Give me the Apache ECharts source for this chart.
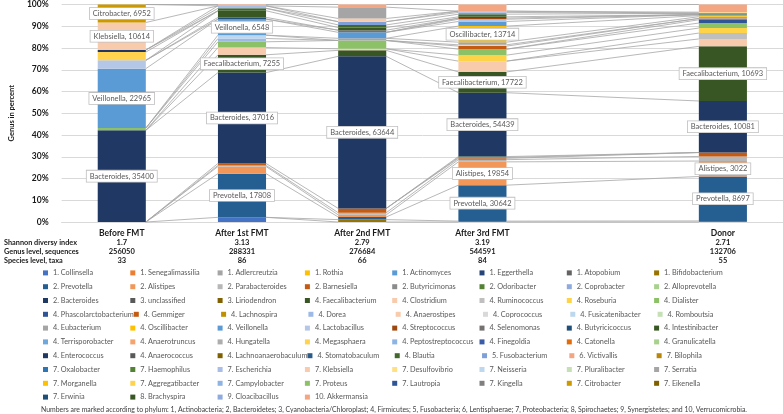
<!DOCTYPE html>
<html><head><meta charset="utf-8">
<script src="https://cdn.jsdelivr.net/npm/echarts@6/dist/echarts.min.js"></script>
<style>html,body{margin:0;padding:0;background:#fff}#c{width:783px;height:414px}</style>
</head><body><div id="c"></div><script>
const categories = ['Before FMT','After 1st FMT','After 2nd FMT','After 3rd FMT','','Donor'];
const shannonIndex = ['1.7','3.13','2.79','3.19','','2.71'];
const genusSequences = ['256050','288331','276684','544591','','132706'];
const speciesTaxa = ['33','86','66','84','','55'];
const rowHeaders = ['Shannon diversy index','Genus level, sequences','Species level, taxa'];
const footnote = 'Numbers are marked according to phylum: 1, Actinobacteria; 2, Bacteroidetes; 3, Cyanobacteria/Chloroplast; 4, Firmicutes; 5, Fusobacteria; 6, Lentisphaerae; 7, Proteobacteria; 8, Spirochaetes; 9, Synergistetes; and 10, Verrucomicrobia.';

const genera = ['1. Collinsella','1. Senegalimassilia','1. Adlercreutzia','1. Rothia','1. Actinomyces','1. Eggerthella','1. Atopobium','1. Bifidobacterium',
'2. Prevotella','2. Alistipes','2. Parabacteroides','2. Barnesiella','2. Butyricimonas','2. Odoribacter','2. Coprobacter','2. Alloprevotella',
'2. Bacteroides','3. unclassified','3. Liriodendron','4. Faecalibacterium','4. Clostridium','4. Ruminococcus','4. Roseburia','4. Dialister',
'4. Phascolarctobacterium','4. Gemmiger','4. Lachnospira','4. Dorea','4. Anaerostipes','4. Coprococcus','4. Fusicatenibacter','4. Romboutsia',
'4. Eubacterium','4. Oscillibacter','4. Veillonella','4. Lactobacillus','4. Streptococcus','4. Selenomonas','4. Butyricicoccus','4. Intestinibacter',
'4. Terrisporobacter','4. Anaerotruncus','4. Hungatella','4. Megasphaera','4. Peptostreptococcus','4. Finegoldia','4. Catonella','4. Granulicatella',
'4. Enterococcus','4. Anaerococcus','4. Lachnoanaerobaculum','4. Stomatobaculum','4. Blautia','5. Fusobacterium','6. Victivallis','7. Bilophila',
'7. Oxalobacter','7. Haemophilus','7. Escherichia','7. Klebsiella','7. Desulfovibrio','7. Neisseria','7. Pluralibacter','7. Serratia',
'7. Morganella','7. Aggregatibacter','7. Campylobacter','7. Proteus','7. Lautropia','7. Kingella','7. Citrobacter','7. Eikenella',
'7. Erwinia','8. Brachyspira','9. Cloacibacillus','10. Akkermansia'];

const genusColors = ['#4472C4','#ED7D31','#A5A5A5','#FFC000','#5B9BD5','#264478','#636363','#997300',
'#255E91','#F1975A','#B7B7B7','#C55A11','#8C8C8C','#548235','#8FAADC','#A9D18E',
'#203864','#595959','#806000','#375623','#F8CBAD','#BFBFBF','#FFD347','#8CC168',
'#2F5597','#C55A11','#BF9000','#9DB9E6','#F8CBAD','#D9D9D9','#BDD7EE','#C5E0B4',
'#A5A5A5','#FFC000','#5B9BD5','#B4C7E7','#9E480E','#767171','#1F4E79','#385723',
'#6FA8DC','#F4A46F','#ADADAD','#FFD34D','#8DB4E2','#3A5BA8','#E36C0A','#A9D18E',
'#203864','#595959','#7F6000','#2E5C8A','#43682B','#7F9FD8','#F4A582','#B8860B',
'#2E75B6','#548235','#A9BDE6','#F8CBAD','#FFE082','#BDD7EE','#C5E0B4','#A5A5A5',
'#FFC000','#FFD34D','#8DB4E2','#8CC168','#2F5597','#7F7F7F','#CC9A00','#7F6000',
'#1F4E79','#385723','#8FAADC','#F4A582'];

// estimated read counts per genus
const beforeFMT = {Bacteroides:35400, Dialister:850, Veillonella:22965, Lactobacillus:3200, Megasphaera:3200, Enterococcus:800, Klebsiella:10614, Citrobacter:6952};
const after1st = {Collinsella:1900, Prevotella:17808, Alistipes:2900, Parabacteroides:450, Barnesiella:800, Bacteroides:37016, Faecalibacterium:7255, Clostridium:2950, Dialister:2350, Dorea:1350, Fusicatenibacter:1350, Veillonella:6548, Butyricicoccus:700, Intestinibacter:2700, Blautia:1000, Escherichia:1000, Akkermansia:550};
const after2nd = {Bifidobacterium:1000, Prevotella:1100, Alistipes:900, Parabacteroides:900, Barnesiella:1800, Bacteroides:63644, Faecalibacterium:2500, Clostridium:650, Dialister:3500, Eubacterium:900, Veillonella:2500, Selenomonas:900, Intestinibacter:1100, Blautia:1100, Fusobacterium:1350, Klebsiella:1350, Serratia:4750, Akkermansia:1100};
const after3rd = {Bifidobacterium:750, Prevotella:30642, Alistipes:19854, Parabacteroides:1900, Barnesiella:1100, Butyricimonas:750, Odoribacter:750, Bacteroides:54439, Faecalibacterium:17722, Clostridium:9200, Roseburia:5100, Dialister:5100, Gemmiger:2600, Coprococcus:1100, Eubacterium:2250, Oscillibacter:13714, Veillonella:3950, Lactobacillus:1900, Streptococcus:950, Intestinibacter:1100, Blautia:2250, Fusobacterium:1500, Escherichia:1100, Akkermansia:5650};
const donor = {Bifidobacterium:210, Prevotella:8697, Alistipes:3022, Parabacteroides:900, Barnesiella:770, Bacteroides:10081, Faecalibacterium:10693, Clostridium:1450, Ruminococcus:1150, Roseburia:980, Dialister:980, Phascolarctobacterium:640, Gemmiger:260, Eubacterium:340, Oscillibacter:210, Veillonella:210, Blautia:260, Desulfovibrio:210, Akkermansia:1500};

const labelledBefore = ['Bacteroides','Veillonella','Klebsiella','Citrobacter'];
const labelledAfter1st = ['Prevotella','Bacteroides','Faecalibacterium','Veillonella'];
const labelledAfter2nd = ['Bacteroides'];
const labelledAfter3rd = ['Prevotella','Alistipes','Bacteroides','Faecalibacterium','Oscillibacter'];
const labelledDonor = ['Prevotella','Alistipes','Bacteroides','Faecalibacterium'];

const FONT = 'Lato, "Noto Sans", sans-serif';
const columns = [beforeFMT, after1st, after2nd, after3rd, null, donor];
const labelSets = [labelledBefore, labelledAfter1st, labelledAfter2nd, labelledAfter3rd, [], labelledDonor];
const shortNames = genera.map(g => g.replace(/^\d+\.\s*/, ''));
const totals = columns.map(c => c ? Object.values(c).reduce((a, b) => a + b, 0) : 0);

const barSeries = genera.map((g, k) => {
  const sn = shortNames[k];
  return {
    name: g, type: 'bar', stack: 'total', barWidth: '40%',
    itemStyle: {color: genusColors[k]},
    label: {show: false, position: 'inside', formatter: p => sn + ', ' + p.data.raw,
      color: '#595959', fontSize: 7.5, fontFamily: FONT, backgroundColor: '#fff',
      borderColor: '#BFBFBF', borderWidth: 0.8, padding: [2, 3, 1, 3]},
    data: columns.map((c, i) => {
      if (!c) return '-';
      const raw = c[sn] || 0;
      return {value: raw / totals[i] * 100, raw: raw, label: {show: labelSets[i].includes(sn)}};
    })
  };
});

// series lines: connect top of each series between consecutive non-empty bars
const filled = columns.map((c, i) => c ? i : -1).filter(i => i >= 0);
const cum = columns.map((c, i) => {
  if (!c) return null;
  let s = 0;
  return shortNames.map(sn => { s += (c[sn] || 0) / totals[i] * 100; return s; });
});
const seen = new Set();
const lineSegs = [];
for (let k = 0; k < genera.length; k++) {
  for (let j = 0; j < filled.length - 1; j++) {
    const a = filled[j], b = filled[j + 1];
    const y1 = cum[a][k], y2 = cum[b][k];
    const key = a + '_' + y1.toFixed(3) + '_' + y2.toFixed(3);
    if (seen.has(key)) continue;
    seen.add(key);
    lineSegs.push([a, y1, b, y2]);
  }
}

const chart = echarts.init(document.getElementById('c'), null, {renderer: 'canvas'});
chart.setOption({
  animation: false,
  grid: {left: 40, right: 0, top: 4, bottom: 192},
  xAxis: {
    type: 'category', data: categories,
    axisTick: {show: false},
    axisLine: {lineStyle: {color: '#D9D9D9'}},
    axisLabel: {
      interval: 0, margin: 7,
      formatter: (v, i) => v ? `{c|${v}}\n{s|${shannonIndex[i]}}\n{s|${genusSequences[i]}}\n{s|${speciesTaxa[i]}}` : '',
      rich: {
        c: {fontSize: 8.5, fontWeight: 'bold', lineHeight: 9.5, color: '#1a1a1a', fontFamily: FONT},
        s: {fontSize: 7.5, fontWeight: 'bold', lineHeight: 9, color: '#1a1a1a', fontFamily: FONT}
      }
    }
  },
  yAxis: {
    type: 'value', min: 0, max: 100, interval: 10,
    name: 'Genus in percent', nameLocation: 'middle', nameRotate: 90, nameGap: 34,
    nameTextStyle: {fontSize: 7.5, fontWeight: 'bold', color: '#1a1a1a', fontFamily: FONT},
    axisLabel: {formatter: '{value}%', fontSize: 8.5, fontWeight: 'bold', color: '#1a1a1a', fontFamily: FONT, margin: 13},
    splitLine: {lineStyle: {color: '#D9D9D9'}},
    axisLine: {show: false}, axisTick: {show: false}
  },
  legend: {
    data: genera, left: 43, top: 266, width: 705, padding: 0,
    itemWidth: 5, itemHeight: 5, itemGap: 0, icon: 'rect', selectedMode: false,
    textStyle: {fontSize: 7.3, color: '#595959', width: 77.3, lineHeight: 13.8, fontFamily: FONT}
  },
  graphic: rowHeaders.map((t, i) => ({
    type: 'text', x: 4, y: 243 + i * 9,
    style: {text: t, fill: '#1a1a1a', font: 'bold 7.3px ' + FONT, verticalAlign: 'middle'}
  })).concat([{
    type: 'text', x: 394, y: 410,
    style: {text: footnote, fill: '#404040', font: '6.9px ' + FONT, align: 'center', verticalAlign: 'middle'}
  }]),
  series: [{
    type: 'custom', name: 'series lines', z: 1, silent: true,
    data: lineSegs, encode: {x: [0, 2], y: [1, 3]},
    renderItem: (params, api) => {
      const p1 = api.coord([api.value(0), api.value(1)]);
      const p2 = api.coord([api.value(2), api.value(3)]);
      const hw = api.size([1, 0])[0] * 0.2;
      return {type: 'line', shape: {x1: p1[0] + hw, y1: p1[1], x2: p2[0] - hw, y2: p2[1]},
        style: {stroke: '#A6A6A6', lineWidth: 0.8}};
    }
  }].concat(barSeries)
});
</script></body></html>
